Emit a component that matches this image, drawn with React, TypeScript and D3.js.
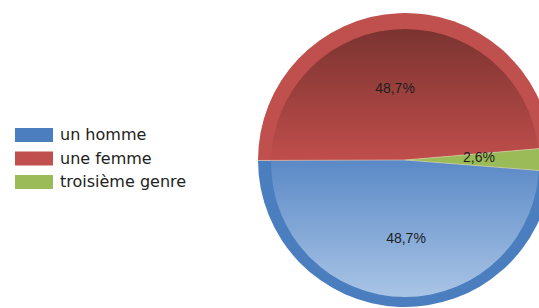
import React, { useEffect, useRef } from 'react';
import * as d3 from 'd3';

const CATEGORIES = ['un homme', 'une femme', 'troisième genre'];
const VALUES = [48.7, 48.7, 2.6];
const RING_COLORS = ['#4a7ebf', '#c0504d', '#9bbb59'];
const GRAD_TOP = ['#5a89c6', '#7a3330', '#9bbb59'];
const GRAD_BOTTOM = ['#aac5e6', '#c24f4c', '#9bbb59'];

const W = 539;
const H = 308;

export default function App() {
  const svgRef = useRef<SVGSVGElement>(null);

  useEffect(() => {
    const svg = d3.select(svgRef.current);
    svg.selectAll('*').remove();

    const cx = 405;
    const cy = 160;
    const R = 147;
    const RING = 13;
    const innerDy = 3;

    const data = CATEGORIES.map((c, i) => ({ c, v: VALUES[i], i }));
    const start = (94.5 * Math.PI) / 180;
    const pie = d3.pie<any>().sort(null).value(d => d.v)
      .startAngle(start).endAngle(start + 2 * Math.PI);
    const arcs = pie(data);
    const outer = d3.arc<any>().innerRadius(0).outerRadius(R);

    const defs = svg.append('defs');
    data.forEach(d => {
      const lg = defs.append('linearGradient')
        .attr('id', `g${d.i}`)
        .attr('gradientUnits', 'userSpaceOnUse')
        .attr('x1', 0).attr('x2', 0)
        .attr('y1', -R).attr('y2', R);
      if (d.i === 1) {
        lg.append('stop').attr('offset', 0.05).attr('stop-color', GRAD_TOP[1]);
        lg.append('stop').attr('offset', 0.52).attr('stop-color', GRAD_BOTTOM[1]);
      } else if (d.i === 0) {
        lg.append('stop').attr('offset', 0.5).attr('stop-color', GRAD_TOP[0]);
        lg.append('stop').attr('offset', 0.97).attr('stop-color', GRAD_BOTTOM[0]);
      } else {
        lg.append('stop').attr('offset', 0).attr('stop-color', GRAD_TOP[2]);
        lg.append('stop').attr('offset', 1).attr('stop-color', GRAD_BOTTOM[2]);
      }
    });
    arcs.forEach(a => {
      defs.append('clipPath')
        .attr('id', `c${a.data.i}`)
        .append('path')
        .attr('d', outer(a));
    });

    const g = svg.append('g').attr('transform', `translate(${cx},${cy})`);

    g.selectAll('path.ring')
      .data(arcs)
      .join('path')
      .attr('class', 'ring')
      .attr('d', outer)
      .attr('fill', d => RING_COLORS[d.data.i]);

    // inner gradient disc, clipped to each slice
    g.selectAll('circle.inner')
      .data(arcs)
      .join('circle')
      .attr('class', 'inner')
      .attr('cx', 0)
      .attr('cy', innerDy)
      .attr('r', R - RING)
      .attr('clip-path', d => `url(#c${d.data.i})`)
      .attr('fill', d => `url(#g${d.data.i})`);

    // thin light separators
    g.selectAll('line.sep')
      .data(arcs)
      .join('line')
      .attr('class', 'sep')
      .attr('x1', 0).attr('y1', 0)
      .attr('x2', d => R * Math.sin(d.startAngle))
      .attr('y2', d => -R * Math.cos(d.startAngle))
      .attr('stroke', '#ead9c6')
      .attr('stroke-width', 0.8)
      .attr('opacity', 0.7);

    const fmt = (v: number) => v.toFixed(1).replace('.', ',') + '%';
    const labelPos = [
      [1, 83],
      [-10, -67],
      [74, 2],
    ];
    g.selectAll('text.lbl')
      .data(arcs)
      .join('text')
      .attr('class', 'lbl')
      .attr('x', d => labelPos[d.data.i][0])
      .attr('y', d => labelPos[d.data.i][1])
      .attr('text-anchor', 'middle')
      .style('font-family', '"Liberation Sans", Arial, sans-serif')
      .style('font-size', '14px')
      .style('fill', '#1e1e1e')
      .text(d => fmt(d.data.v));

    // Legend
    const leg = svg.append('g').attr('transform', 'translate(15,128)');
    data.forEach((d, i) => {
      leg.append('rect')
        .attr('x', 0).attr('y', i * 23.5)
        .attr('width', 38).attr('height', 14)
        .attr('fill', RING_COLORS[i]);
      leg.append('text')
        .attr('x', 45).attr('y', i * 23.5 + 12)
        .style('font-family', '"DejaVu Sans", sans-serif')
        .style('font-size', '16px')
        .style('fill', '#222')
        .text(d.c);
    });
  }, []);

  return (
    <svg ref={svgRef} width={W} height={H}
      style={{ position: 'absolute', left: 0, top: 0, background: '#fff' }} />
  );
}
